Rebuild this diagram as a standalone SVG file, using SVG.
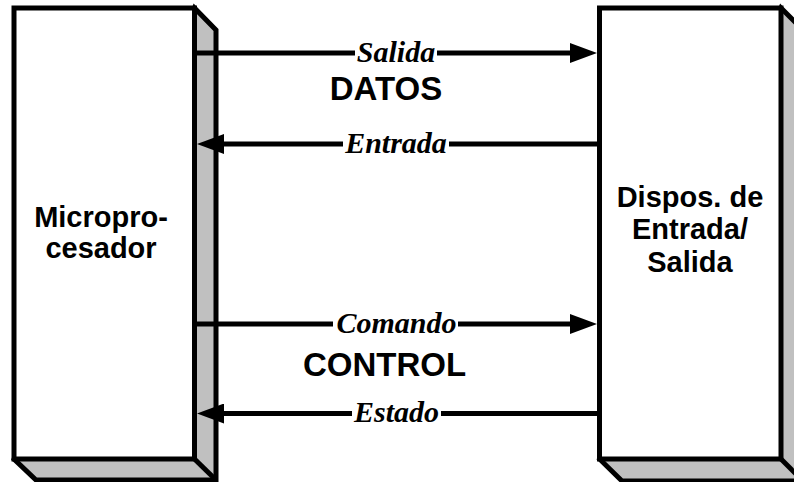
<svg xmlns="http://www.w3.org/2000/svg" width="794" height="482" viewBox="0 0 794 482">
  <style>
    .side { fill: #c0c0c0; stroke: #000; stroke-width: 5; stroke-linejoin: miter; }
    .front { fill: #fff; stroke: #000; stroke-width: 5; stroke-linejoin: miter; }
    .edge { fill: none; stroke: #000; stroke-width: 5; }
    .wire { fill: none; stroke: #000; stroke-width: 5; marker-end: url(#head); }
    .box-label { font-family: "Liberation Sans", Arial, sans-serif; font-weight: bold; font-size: 29px; text-anchor: middle; fill: #000; }
    .bus-label { font-family: "Liberation Sans", Arial, sans-serif; font-weight: bold; font-size: 33px; text-anchor: middle; fill: #000; }
    .sig-label { font-family: "Liberation Serif", "Times New Roman", serif; font-weight: bold; font-style: italic; font-size: 30px; text-anchor: middle; fill: #000; }
    .mask { fill: #fff; }
  </style>
  <defs>
    <marker id="head" markerUnits="userSpaceOnUse" markerWidth="27" markerHeight="20" refX="7" refY="10" orient="auto">
      <path d="M0,0 L27,10 L0,20 Z" fill="#000"/>
    </marker>
  </defs>

  <!-- Microprocessor block (3D slab) -->
  <g id="microprocesador">
    <polygon class="side" points="194.5,8 216,30 216,480 36,480 14,459"/>
    <rect class="front" x="14" y="8" width="180.5" height="451"/>
    <line class="edge" x1="194.5" y1="459" x2="216" y2="480"/>
    <text class="box-label" x="101" y="227">Micropro-</text>
    <text class="box-label" x="101" y="258">cesador</text>
  </g>

  <!-- I/O device block (3D slab, partly off the right edge) -->
  <g id="dispositivo-es">
    <polygon class="side" points="781,8 803,30 803,481 622,481 599.5,459"/>
    <rect class="front" x="599.5" y="8" width="181.5" height="451"/>
    <line class="edge" x1="781" y1="459" x2="803" y2="481"/>
    <text class="box-label" x="690" y="207">Dispos. de</text>
    <text class="box-label" x="690" y="239">Entrada/</text>
    <text class="box-label" x="690" y="272">Salida</text>
  </g>

  <!-- Signal lines between the blocks -->
  <g id="connectors">
    <line class="wire" x1="194.5" y1="53" x2="577" y2="53"/>
    <line class="wire" x1="599.5" y1="144" x2="217" y2="144"/>
    <line class="wire" x1="194.5" y1="324" x2="577" y2="324"/>
    <line class="wire" x1="599.5" y1="413.5" x2="217" y2="413.5"/>

    <rect class="mask" x="355" y="47" width="82" height="12"/>
    <text class="sig-label" x="396" y="62">Salida</text>
    <rect class="mask" x="343" y="138" width="106" height="12"/>
    <text class="sig-label" x="396" y="152.5">Entrada</text>
    <rect class="mask" x="333" y="318" width="125" height="12"/>
    <text class="sig-label" x="396.5" y="332.5">Comando</text>
    <rect class="mask" x="352" y="407.5" width="89" height="12"/>
    <text class="sig-label" x="396.5" y="422">Estado</text>
  </g>

  <!-- Bus names -->
  <g id="buses">
    <text class="bus-label" x="386" y="100">DATOS</text>
    <text class="bus-label" x="384.5" y="376">CONTROL</text>
  </g>
</svg>
